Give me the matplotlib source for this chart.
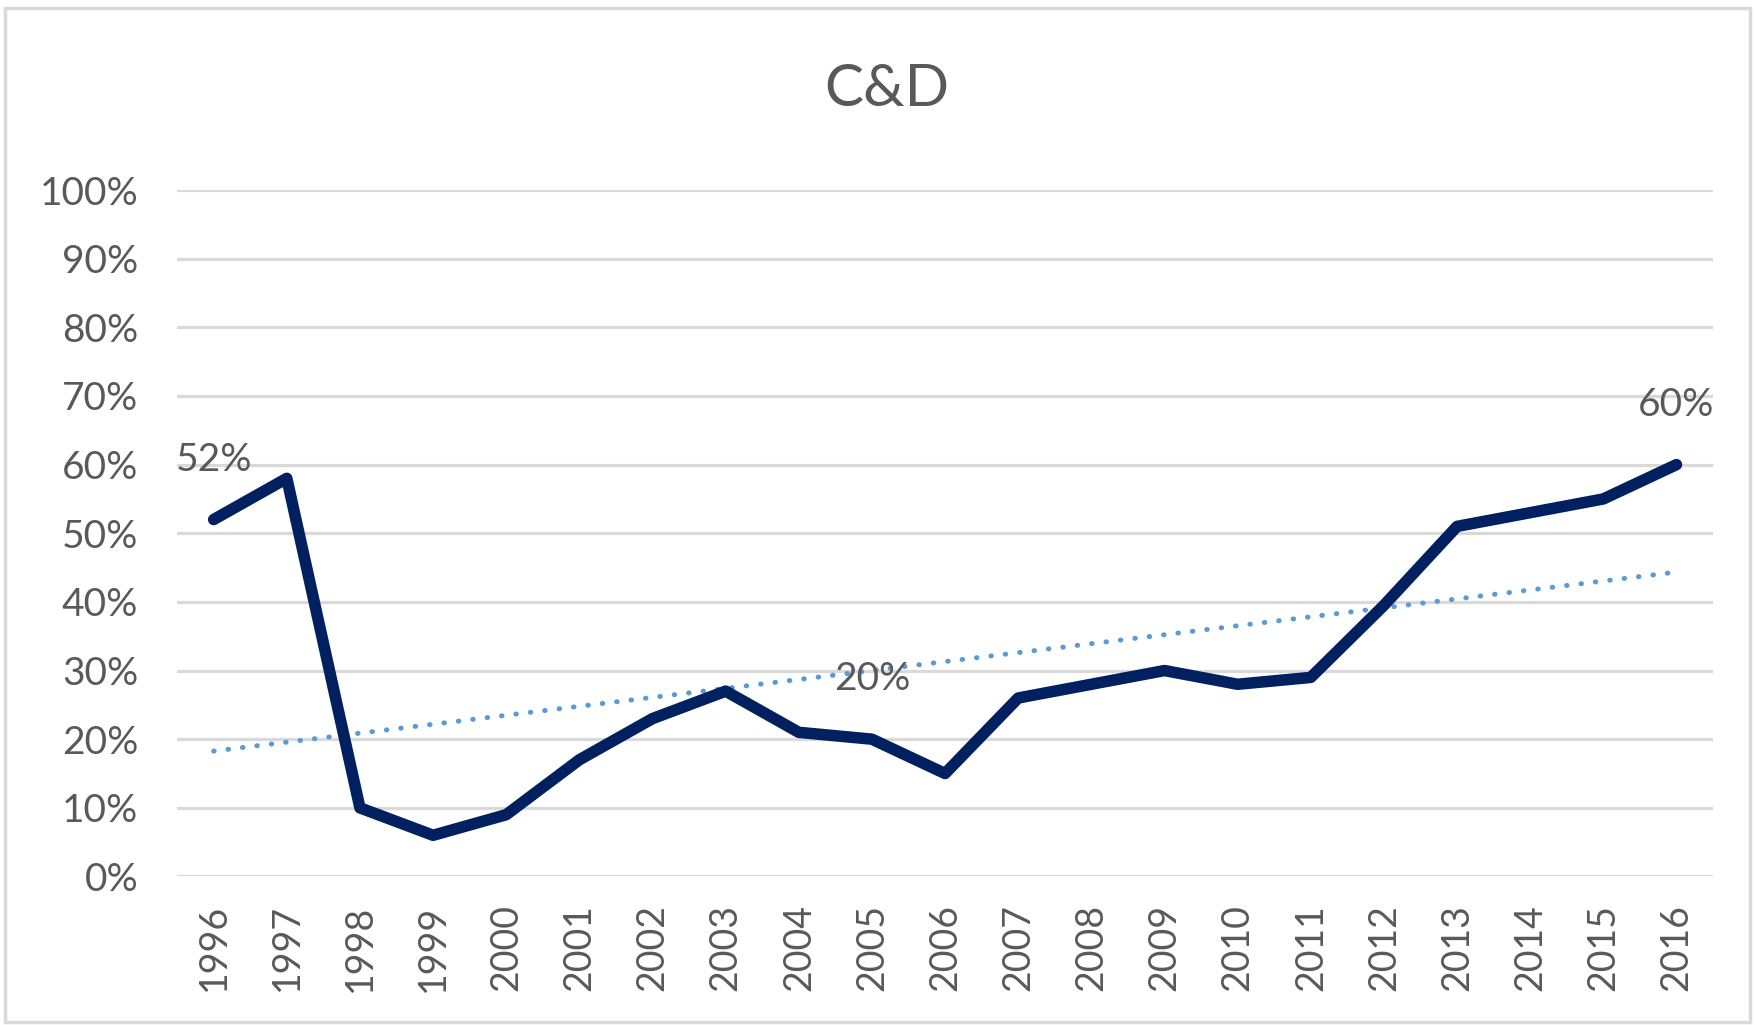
import matplotlib.pyplot as plt
from matplotlib.patches import Rectangle
import numpy as np

# C&D share by year
years = list(range(1996, 2017))
share = [52, 58, 10, 6, 9, 17, 23, 27, 21, 20, 15, 26, 28, 30, 28, 29, 39.5, 51, 53, 55, 60]
labelled_years = [1996, 2005, 2016]
title = "C&D"

plt.rcParams['font.family'] = ['Lato', 'DejaVu Sans']
text_color = "#595959"

fig = plt.figure(figsize=(17.55, 10.25), dpi=100)
ax = fig.add_axes([0.1009, 0.1449, 0.8752, 0.6697])

vals = np.array(share) / 100.0

# Gridlines
ax.set_ylim(0, 1)
ax.set_xlim(years[0] - 0.5, years[-1] + 0.5)
ax.set_yticks(np.arange(0, 1.01, 0.1))
ax.yaxis.grid(True, color="#d9d9d9", linewidth=2.3)
ax.set_axisbelow(True)
for s in ax.spines.values():
    s.set_visible(False)

# Linear trendline (least squares fit of the series)
coef = np.polyfit(years, vals, 1)
trend = np.polyval(coef, years)
ax.plot(years, trend, color="#5b9bd5", linewidth=3.6, linestyle=(0, (0.1, 2.8)),
        dash_capstyle="round", zorder=2)

# Main series
ax.plot(years, vals, color="#002060", linewidth=8.3, solid_capstyle="round",
        solid_joinstyle="round", zorder=3)

# Data labels
for yr in labelled_years:
    v = vals[years.index(yr)]
    ax.annotate(f"{round(v * 100):d}%", (yr, v), xytext=(0, 43), textcoords="offset points",
                ha="center", va="center", fontsize=28, color=text_color, zorder=4)

ax.set_xticks(years)
ax.set_xticklabels([str(y) for y in years], rotation=90)
ax.set_yticklabels([f"{int(round(t * 100))}%" for t in ax.get_yticks()])
ax.tick_params(axis="x", length=0, pad=20, labelsize=27, labelcolor=text_color)
ax.tick_params(axis="y", length=0, pad=28, labelsize=28, labelcolor=text_color)

fig.text(0.505, 0.9127, title, ha="center", va="center", fontsize=42, color=text_color)

# Chart area border
fig.patches.append(Rectangle((0.003, 0.003), 0.994, 0.989, transform=fig.transFigure,
                             fill=False, edgecolor="#d9d9d9", linewidth=2.5))

fig.savefig("out.png", dpi=100)
